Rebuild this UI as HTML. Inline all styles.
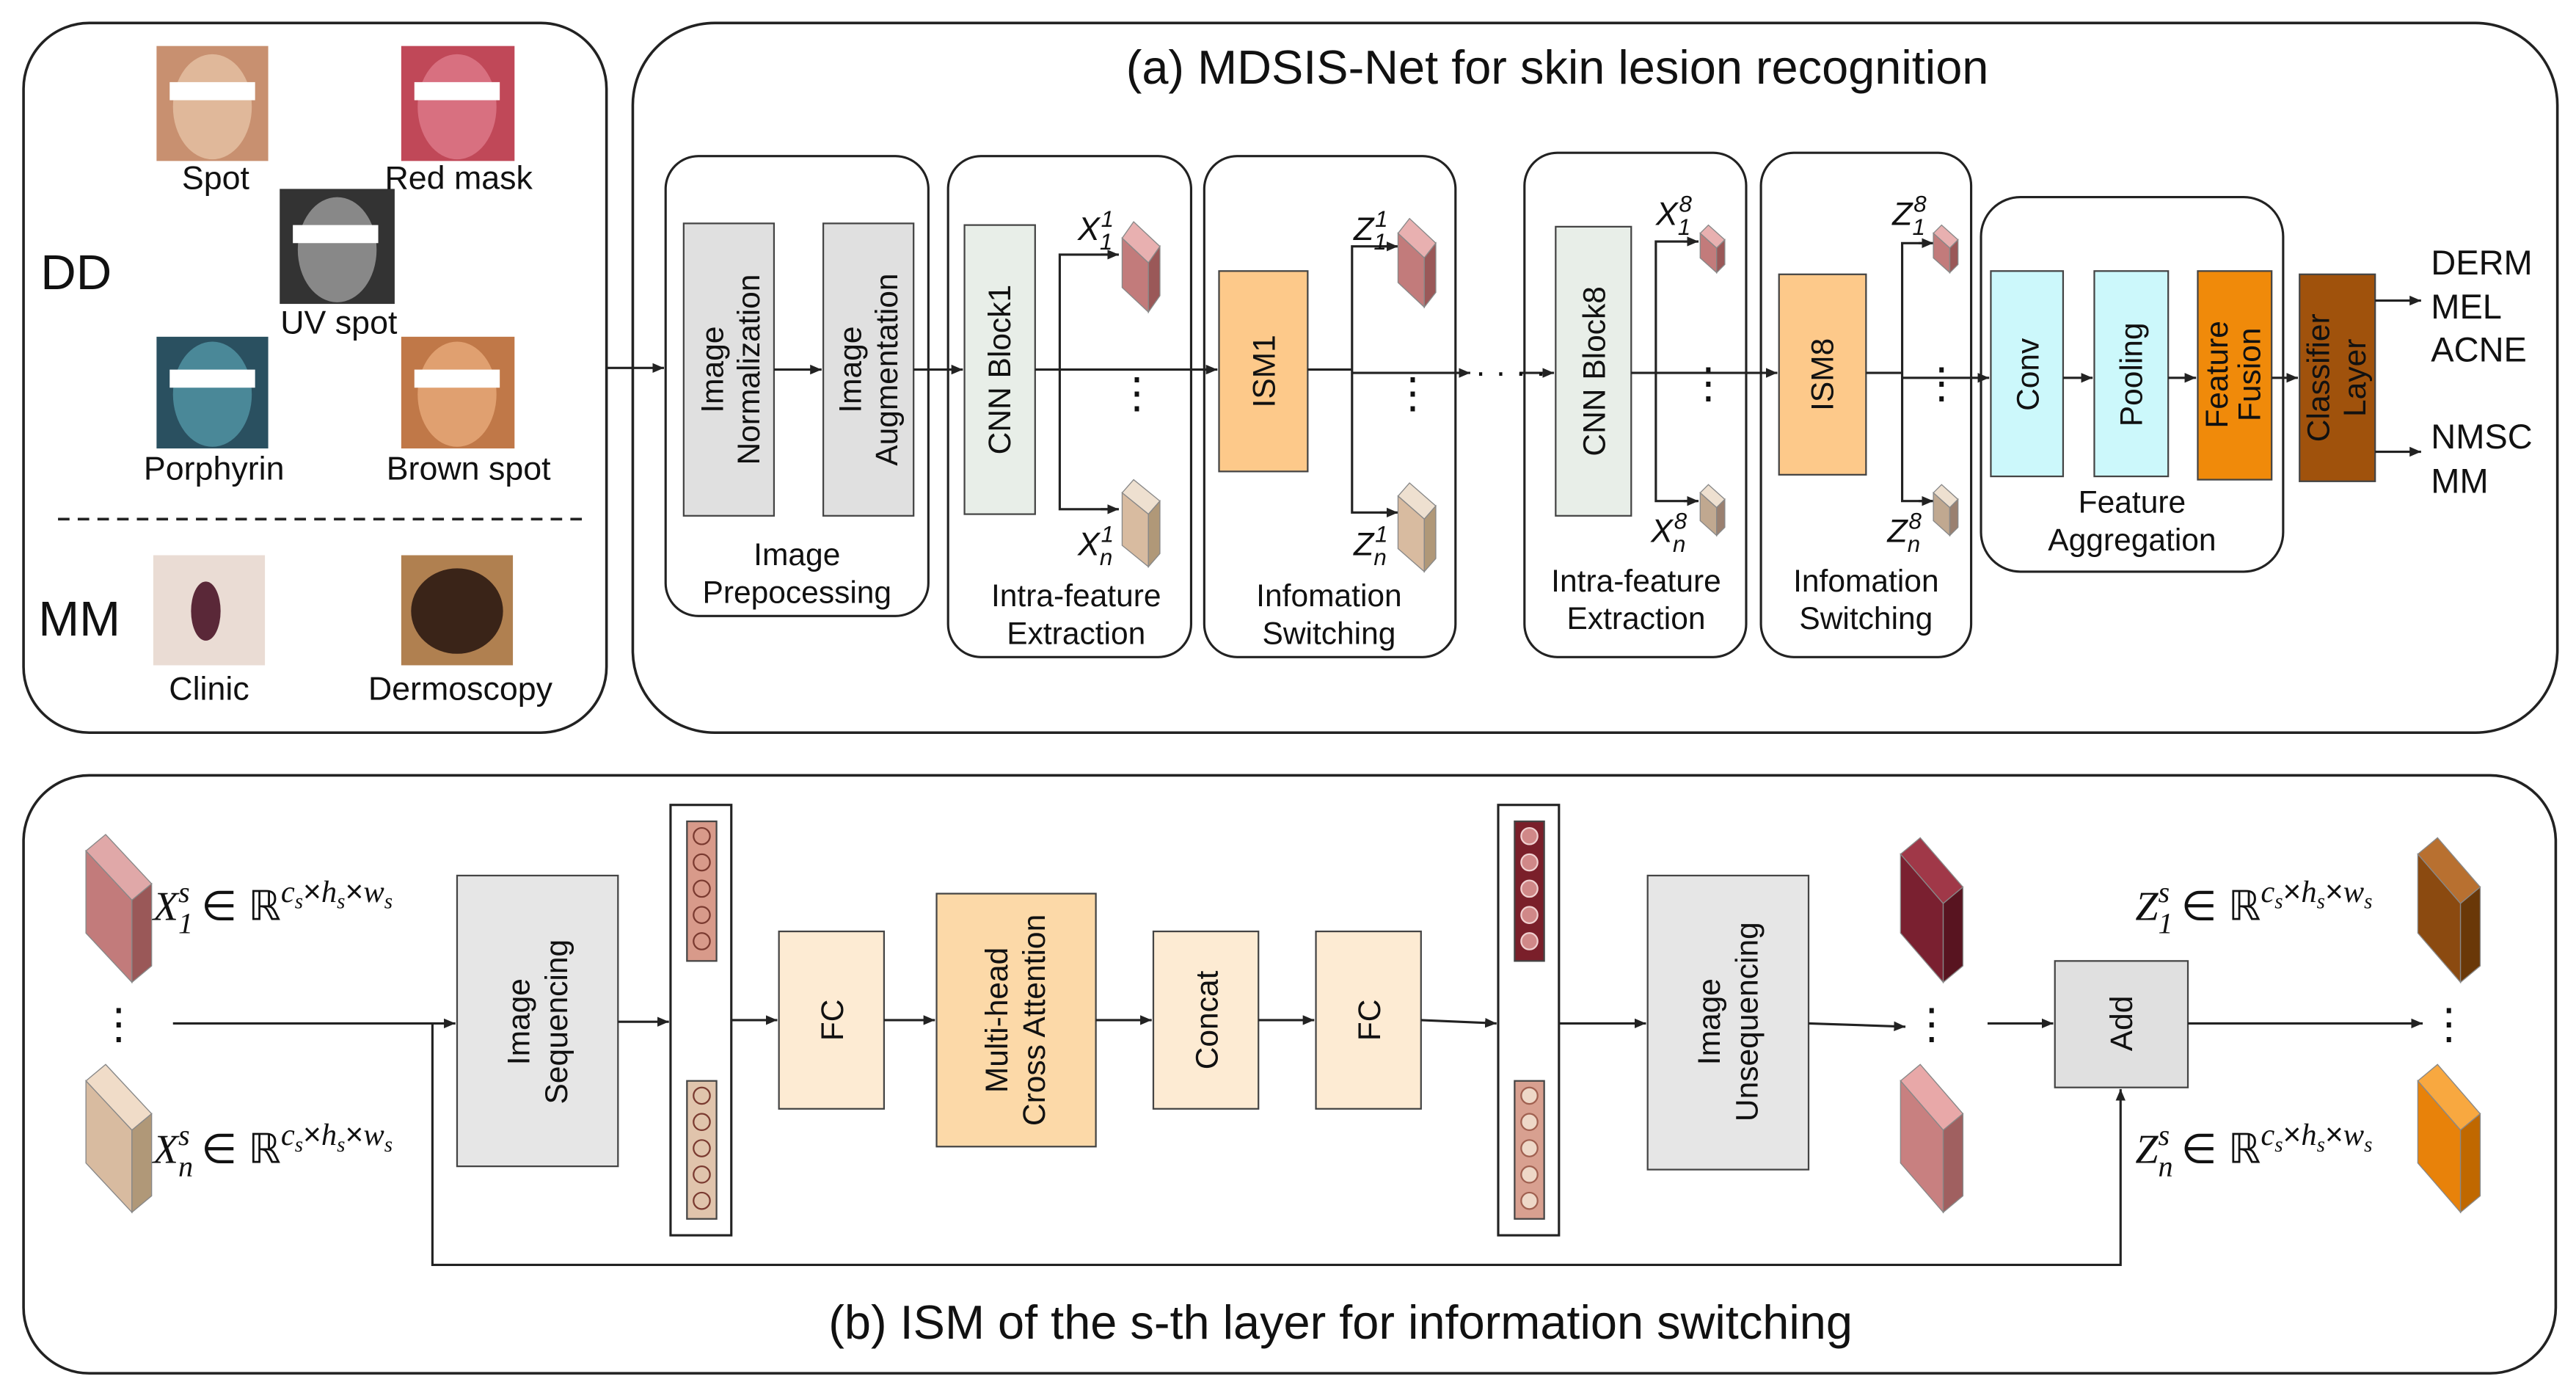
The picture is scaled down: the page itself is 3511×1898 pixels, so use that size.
<!DOCTYPE html>
<html><head><meta charset="utf-8"><style>
html,body{margin:0;padding:0;background:#fff}
svg{display:block}
text{font-family:"Liberation Sans",sans-serif;fill:#111}
.m{font-family:"Liberation Serif",serif;font-style:italic}
</style></head><body>
<svg width="3511" height="1898" viewBox="0 0 1568 848" xmlns="http://www.w3.org/2000/svg">
<defs>
<marker id="a" markerWidth="8" markerHeight="8" refX="7" refY="4" orient="auto" markerUnits="userSpaceOnUse"><path d="M0,1 L7,4 L0,7 z" fill="#222"/></marker>
</defs>
<g fill="none" stroke="#222" stroke-width="1.6">
<rect x="14" y="14" width="355" height="432" rx="40"/>
<rect x="385" y="14" width="1172" height="432" rx="50"/>
<rect x="14" y="472" width="1542" height="364" rx="40"/>
</g>
<text x="948" y="51" font-size="29" text-anchor="middle">(a) MDSIS-Net for skin lesion recognition</text>
<text x="816" y="815" font-size="29" text-anchor="middle">(b) ISM of the s-th layer for information switching</text>

<g>
<rect x="95" y="28" width="68" height="70" fill="#c89070"/><ellipse cx="129" cy="65" rx="24" ry="32" fill="#e0b89a"/><rect x="103" y="50" width="52" height="11" fill="#fff"/>
<rect x="244" y="28" width="69" height="70" fill="#c04858"/><ellipse cx="278" cy="65" rx="24" ry="32" fill="#d87080"/><rect x="252" y="50" width="52" height="11" fill="#fff"/>
<rect x="170" y="115" width="70" height="70" fill="#333"/><ellipse cx="205" cy="152" rx="24" ry="32" fill="#888"/><rect x="178" y="137" width="52" height="11" fill="#fff"/>
<rect x="95" y="205" width="68" height="68" fill="#2a5060"/><ellipse cx="129" cy="240" rx="24" ry="32" fill="#4a8898"/><rect x="103" y="225" width="52" height="11" fill="#fff"/>
<rect x="244" y="205" width="69" height="68" fill="#c07848"/><ellipse cx="278" cy="240" rx="24" ry="32" fill="#e0a070"/><rect x="252" y="225" width="52" height="11" fill="#fff"/>
<rect x="93" y="338" width="68" height="67" fill="#eadcd4"/><ellipse cx="125" cy="372" rx="9" ry="18" fill="#5a2838"/>
<rect x="244" y="338" width="68" height="67" fill="#b08050"/><ellipse cx="278" cy="372" rx="28" ry="26" fill="#3a2418"/>
</g>
<g font-size="20" text-anchor="middle">
<text x="131" y="115">Spot</text><text x="279" y="115">Red mask</text><text x="206" y="203">UV spot</text>
<text x="130" y="292">Porphyrin</text><text x="285" y="292">Brown spot</text>
<text x="127" y="426">Clinic</text><text x="280" y="426">Dermoscopy</text>
</g>
<text x="46" y="176" font-size="30" text-anchor="middle">DD</text>
<text x="48" y="387" font-size="30" text-anchor="middle">MM</text>
<line x1="35" y1="316" x2="358" y2="316" stroke="#222" stroke-width="1.6" stroke-dasharray="7,5"/>

<g stroke="#222" stroke-width="1.4" fill="none">
<line x1="369" y1="224" x2="404" y2="224" marker-end="url(#a)"/>
<rect x="405" y="95" width="160" height="280" rx="20"/>
<rect x="577" y="95" width="148" height="305" rx="20"/>
<rect x="733" y="95" width="153" height="305" rx="20"/>
<rect x="928" y="93" width="135" height="307" rx="20"/>
<rect x="1072" y="93" width="128" height="307" rx="20"/>
<rect x="1206" y="120" width="184" height="228" rx="24"/>
</g>
<g stroke="#444" stroke-width="1">
<rect x="416" y="136" width="55" height="178" fill="#e0e0e0"/>
<rect x="501" y="136" width="55" height="178" fill="#e0e0e0"/>
<rect x="587" y="137" width="43" height="176" fill="#e8eee8"/>
<rect x="742" y="165" width="54" height="122" fill="#fdc98a"/>
<rect x="947" y="138" width="46" height="176" fill="#e8eee8"/>
<rect x="1083" y="167" width="53" height="122" fill="#fdc98a"/>
<rect x="1212" y="165" width="44" height="125" fill="#ccf8fb"/>
<rect x="1275" y="165" width="45" height="125" fill="#ccf8fb"/>
<rect x="1338" y="165" width="45" height="127" fill="#f08a0a"/>
<rect x="1400" y="167" width="46" height="126" fill="#a0520c"/>
</g>
<g font-size="19" text-anchor="middle">
<text transform="translate(440,225) rotate(-90)">Image</text><text transform="translate(462,225) rotate(-90)">Normalization</text>
<text transform="translate(524,225) rotate(-90)">Image</text><text transform="translate(546,225) rotate(-90)">Augmentation</text>
<text transform="translate(615,225) rotate(-90)">CNN Block1</text>
<text transform="translate(776,226) rotate(-90)">ISM1</text>
<text transform="translate(977,226) rotate(-90)">CNN Block8</text>
<text transform="translate(1116,228) rotate(-90)">ISM8</text>
<text transform="translate(1241,228) rotate(-90)">Conv</text>
<text transform="translate(1304,228) rotate(-90)">Pooling</text>
<text transform="translate(1356,228) rotate(-90)">Feature</text><text transform="translate(1376,228) rotate(-90)">Fusion</text>
<text transform="translate(1418,230) rotate(-90)">Classifier</text><text transform="translate(1440,230) rotate(-90)">Layer</text>
<text x="485" y="344">Image</text><text x="485" y="367">Prepocessing</text>
<text x="655" y="369">Intra-feature</text><text x="655" y="392">Extraction</text>
<text x="809" y="369">Infomation</text><text x="809" y="392">Switching</text>
<text x="996" y="360">Intra-feature</text><text x="996" y="383">Extraction</text>
<text x="1136" y="360">Infomation</text><text x="1136" y="383">Switching</text>
<text x="1298" y="312">Feature</text><text x="1298" y="335">Aggregation</text>
</g>
<g stroke="#222" stroke-width="1.4" fill="none">
<line x1="471" y1="225" x2="500" y2="225" marker-end="url(#a)"/>
<line x1="556" y1="225" x2="586" y2="225" marker-end="url(#a)"/>
<line x1="630" y1="225" x2="645" y2="225"/>
<path d="M680,155 H645 V310 H680" /><line x1="670" y1="155" x2="681" y2="155" marker-end="url(#a)"/><line x1="670" y1="310" x2="681" y2="310" marker-end="url(#a)"/>
<line x1="645" y1="225" x2="741" y2="225" marker-end="url(#a)"/>
<line x1="796" y1="225" x2="823" y2="225"/>
<path d="M850,150 H823 V312 H850"/><line x1="840" y1="150" x2="851" y2="150" marker-end="url(#a)"/><line x1="840" y1="312" x2="851" y2="312" marker-end="url(#a)"/>
<line x1="823" y1="227" x2="895" y2="227" marker-end="url(#a)"/>
<line x1="925" y1="227" x2="946" y2="227" marker-end="url(#a)"/>
<line x1="993" y1="227" x2="1008" y2="227"/>
<path d="M1033,147 H1008 V305 H1033"/><line x1="1025" y1="147" x2="1034" y2="147" marker-end="url(#a)"/><line x1="1025" y1="305" x2="1034" y2="305" marker-end="url(#a)"/>
<line x1="1008" y1="227" x2="1082" y2="227" marker-end="url(#a)"/>
<line x1="1136" y1="227" x2="1158" y2="227"/>
<path d="M1176,148 H1158 V305 H1176"/><line x1="1168" y1="148" x2="1177" y2="148" marker-end="url(#a)"/><line x1="1168" y1="305" x2="1177" y2="305" marker-end="url(#a)"/>
<line x1="1158" y1="230" x2="1211" y2="230" marker-end="url(#a)"/>
<line x1="1256" y1="230" x2="1274" y2="230" marker-end="url(#a)"/>
<line x1="1320" y1="230" x2="1337" y2="230" marker-end="url(#a)"/>
<line x1="1383" y1="230" x2="1399" y2="230" marker-end="url(#a)"/>
<line x1="1446" y1="183" x2="1474" y2="183" marker-end="url(#a)"/>
<line x1="1446" y1="275" x2="1474" y2="275" marker-end="url(#a)"/>
</g>
<text x="898" y="233" font-size="20">· · · ·</text>
<g font-size="26" text-anchor="middle"><text x="692" y="248">⋮</text><text x="860" y="248">⋮</text><text x="1040" y="242">⋮</text><text x="1182" y="242">⋮</text></g>
<g stroke="#888" stroke-width="0.6">
<polygon points="683,145 690,135 706,150 699,160" fill="#e8b0b0"/><polygon points="683,145 699,160 699,190 683,175" fill="#c27b7b"/><polygon points="699,160 706,150 706,180 699,190" fill="#9a5858"/>
<polygon points="683,300 690,292 706,305 699,313" fill="#eee0d0"/><polygon points="683,300 699,313 699,345 683,332" fill="#d8bba0"/><polygon points="699,313 706,305 706,337 699,345" fill="#b09878"/>
<polygon points="851,142 858,133 874,148 867,157" fill="#e8b0b0"/><polygon points="851,142 867,157 867,187 851,172" fill="#c27b7b"/><polygon points="867,157 874,148 874,178 867,187" fill="#9a5858"/>
<polygon points="851,302 858,294 874,308 867,316" fill="#eee0d0"/><polygon points="851,302 867,316 867,348 851,334" fill="#d8bba0"/><polygon points="867,316 874,308 874,340 867,348" fill="#b09878"/>
<polygon points="1035,142 1040,137 1050,146 1045,151" fill="#e8b0b0"/><polygon points="1035,142 1045,151 1045,166 1035,157" fill="#c27b7b"/><polygon points="1045,151 1050,146 1050,161 1045,166" fill="#9a5858"/>
<polygon points="1035,300 1040,295 1050,304 1045,309" fill="#eee0d0"/><polygon points="1035,300 1045,309 1045,326 1035,317" fill="#c0a890"/><polygon points="1045,309 1050,304 1050,321 1045,326" fill="#9a8070"/>
<polygon points="1177,142 1182,137 1192,146 1187,151" fill="#e8b0b0"/><polygon points="1177,142 1187,151 1187,166 1177,157" fill="#c27b7b"/><polygon points="1187,151 1192,146 1192,161 1187,166" fill="#9a5858"/>
<polygon points="1177,300 1182,295 1192,304 1187,309" fill="#eee0d0"/><polygon points="1177,300 1187,309 1187,326 1177,317" fill="#c0a890"/><polygon points="1187,309 1192,304 1192,321 1187,326" fill="#9a8070"/>
</g>
<g font-size="20" class="m">
<text x="656" y="146">X<tspan font-size="14" dy="6">1</tspan><tspan font-size="14" dy="-14" dx="-7">1</tspan></text>
<text x="656" y="338">X<tspan font-size="14" dy="6">n</tspan><tspan font-size="14" dy="-14" dx="-7">1</tspan></text>
<text x="824" y="146">Z<tspan font-size="14" dy="6">1</tspan><tspan font-size="14" dy="-14" dx="-7">1</tspan></text>
<text x="824" y="338">Z<tspan font-size="14" dy="6">n</tspan><tspan font-size="14" dy="-14" dx="-7">1</tspan></text>
<text x="1008" y="137">X<tspan font-size="14" dy="6">1</tspan><tspan font-size="14" dy="-14" dx="-7">8</tspan></text>
<text x="1005" y="330">X<tspan font-size="14" dy="6">n</tspan><tspan font-size="14" dy="-14" dx="-7">8</tspan></text>
<text x="1152" y="137">Z<tspan font-size="14" dy="6">1</tspan><tspan font-size="14" dy="-14" dx="-7">8</tspan></text>
<text x="1149" y="330">Z<tspan font-size="14" dy="6">n</tspan><tspan font-size="14" dy="-14" dx="-7">8</tspan></text>
</g>
<g font-size="21"><text x="1480" y="167">DERM</text><text x="1480" y="194">MEL</text><text x="1480" y="220">ACNE</text><text x="1480" y="273">NMSC</text><text x="1480" y="300">MM</text></g>

<g stroke="#888" stroke-width="0.6">
<polygon points="52,518 64,508 92,538 80,548" fill="#e0a8a8"/><polygon points="52,518 80,548 80,598 52,568" fill="#c27b7b"/><polygon points="80,548 92,538 92,588 80,598" fill="#9a5858"/>
<polygon points="52,658 64,648 92,678 80,688" fill="#f0dcc8"/><polygon points="52,658 80,688 80,738 52,708" fill="#d8bba0"/><polygon points="80,688 92,678 92,728 80,738" fill="#b09878"/>
<polygon points="1157,520 1169,510 1195,540 1183,550" fill="#a03848"/><polygon points="1157,520 1183,550 1183,598 1157,568" fill="#7a2030"/><polygon points="1183,550 1195,540 1195,588 1183,598" fill="#581420"/>
<polygon points="1157,658 1169,648 1195,678 1183,688" fill="#e8a8a8"/><polygon points="1157,658 1183,688 1183,738 1157,708" fill="#c88080"/><polygon points="1183,688 1195,678 1195,728 1183,738" fill="#a06060"/>
<polygon points="1472,520 1484,510 1510,540 1498,550" fill="#b87030"/><polygon points="1472,520 1498,550 1498,598 1472,568" fill="#8b4a10"/><polygon points="1498,550 1510,540 1510,588 1498,598" fill="#6a3808"/>
<polygon points="1472,658 1484,648 1510,678 1498,688" fill="#f8a840"/><polygon points="1472,658 1498,688 1498,738 1472,708" fill="#e8820a"/><polygon points="1498,688 1510,678 1510,728 1498,738" fill="#c06800"/>
</g>
<g font-size="26" text-anchor="middle"><text x="72" y="632">⋮</text><text x="1176" y="632">⋮</text><text x="1491" y="632">⋮</text></g>
<g font-size="25">
<text x="93" y="560"><tspan class="m">X</tspan><tspan class="m" font-size="18" dy="8">1</tspan><tspan class="m" font-size="18" dy="-19" dx="-9">s</tspan><tspan dy="11"> ∈ ℝ</tspan><tspan class="m" font-size="19" dy="-11">c</tspan><tspan class="m" font-size="13" dy="4">s</tspan><tspan font-size="19" dy="-4">×</tspan><tspan class="m" font-size="19">h</tspan><tspan class="m" font-size="13" dy="4">s</tspan><tspan font-size="19" dy="-4">×</tspan><tspan class="m" font-size="19">w</tspan><tspan class="m" font-size="13" dy="4">s</tspan></text>
<text x="93" y="708"><tspan class="m">X</tspan><tspan class="m" font-size="18" dy="8">n</tspan><tspan class="m" font-size="18" dy="-19" dx="-9">s</tspan><tspan dy="11"> ∈ ℝ</tspan><tspan class="m" font-size="19" dy="-11">c</tspan><tspan class="m" font-size="13" dy="4">s</tspan><tspan font-size="19" dy="-4">×</tspan><tspan class="m" font-size="19">h</tspan><tspan class="m" font-size="13" dy="4">s</tspan><tspan font-size="19" dy="-4">×</tspan><tspan class="m" font-size="19">w</tspan><tspan class="m" font-size="13" dy="4">s</tspan></text>
<text x="1300" y="560"><tspan class="m">Z</tspan><tspan class="m" font-size="18" dy="8">1</tspan><tspan class="m" font-size="18" dy="-19" dx="-9">s</tspan><tspan dy="11"> ∈ ℝ</tspan><tspan class="m" font-size="19" dy="-11">c</tspan><tspan class="m" font-size="13" dy="4">s</tspan><tspan font-size="19" dy="-4">×</tspan><tspan class="m" font-size="19">h</tspan><tspan class="m" font-size="13" dy="4">s</tspan><tspan font-size="19" dy="-4">×</tspan><tspan class="m" font-size="19">w</tspan><tspan class="m" font-size="13" dy="4">s</tspan></text>
<text x="1300" y="708"><tspan class="m">Z</tspan><tspan class="m" font-size="18" dy="8">n</tspan><tspan class="m" font-size="18" dy="-19" dx="-9">s</tspan><tspan dy="11"> ∈ ℝ</tspan><tspan class="m" font-size="19" dy="-11">c</tspan><tspan class="m" font-size="13" dy="4">s</tspan><tspan font-size="19" dy="-4">×</tspan><tspan class="m" font-size="19">h</tspan><tspan class="m" font-size="13" dy="4">s</tspan><tspan font-size="19" dy="-4">×</tspan><tspan class="m" font-size="19">w</tspan><tspan class="m" font-size="13" dy="4">s</tspan></text>
</g>
<g stroke="#444" stroke-width="1">
<rect x="278" y="533" width="98" height="177" fill="#e6e6e6"/>
<rect x="408" y="490" width="37" height="262" fill="#fff" stroke="#222" stroke-width="1.4"/>
<rect x="418" y="500" width="18" height="85" fill="#d89a8a"/>
<rect x="418" y="658" width="18" height="84" fill="#e0c4ac"/>
<rect x="474" y="567" width="64" height="108" fill="#fdebd3"/>
<rect x="570" y="544" width="97" height="154" fill="#fcd9a8"/>
<rect x="702" y="567" width="64" height="108" fill="#fdebd3"/>
<rect x="801" y="567" width="64" height="108" fill="#fdebd3"/>
<rect x="912" y="490" width="37" height="262" fill="#fff" stroke="#222" stroke-width="1.4"/>
<rect x="922" y="500" width="18" height="85" fill="#7a1f2a"/>
<rect x="922" y="658" width="18" height="84" fill="#d8a090"/>
<rect x="1003" y="533" width="98" height="179" fill="#e6e6e6"/>
<rect x="1251" y="585" width="81" height="77" fill="#e0e0e0"/>
</g>
<g fill="none" stroke="#7a3a30" stroke-width="1">
<circle cx="427" cy="509" r="5"/><circle cx="427" cy="525" r="5"/><circle cx="427" cy="541" r="5"/><circle cx="427" cy="557" r="5"/><circle cx="427" cy="573" r="5"/>
<circle cx="427" cy="667" r="5"/><circle cx="427" cy="683" r="5"/><circle cx="427" cy="699" r="5"/><circle cx="427" cy="715" r="5"/><circle cx="427" cy="731" r="5"/>
</g>
<g fill="#d08888" stroke="#f0d0d0" stroke-width="1">
<circle cx="931" cy="509" r="5"/><circle cx="931" cy="525" r="5"/><circle cx="931" cy="541" r="5"/><circle cx="931" cy="557" r="5"/><circle cx="931" cy="573" r="5"/>
</g>
<g fill="#eed8c8" stroke="#a06050" stroke-width="1">
<circle cx="931" cy="667" r="5"/><circle cx="931" cy="683" r="5"/><circle cx="931" cy="699" r="5"/><circle cx="931" cy="715" r="5"/><circle cx="931" cy="731" r="5"/>
</g>
<g font-size="19" text-anchor="middle">
<text transform="translate(322,622) rotate(-90)">Image</text><text transform="translate(345,622) rotate(-90)">Sequencing</text>
<text transform="translate(513,621) rotate(-90)">FC</text>
<text transform="translate(613,621) rotate(-90)">Multi-head</text><text transform="translate(636,621) rotate(-90)">Cross Attention</text>
<text transform="translate(741,621) rotate(-90)">Concat</text>
<text transform="translate(840,621) rotate(-90)">FC</text>
<text transform="translate(1047,622) rotate(-90)">Image</text><text transform="translate(1070,622) rotate(-90)">Unsequencing</text>
<text transform="translate(1298,623) rotate(-90)">Add</text>
</g>
<g stroke="#222" stroke-width="1.4" fill="none">
<line x1="105" y1="623" x2="277" y2="623" marker-end="url(#a)"/>
<path d="M263,623 V770 H1291 V663" marker-end="url(#a)"/>
<line x1="376" y1="622" x2="407" y2="622" marker-end="url(#a)"/>
<line x1="445" y1="621" x2="473" y2="621" marker-end="url(#a)"/>
<line x1="538" y1="621" x2="569" y2="621" marker-end="url(#a)"/>
<line x1="667" y1="621" x2="701" y2="621" marker-end="url(#a)"/>
<line x1="766" y1="621" x2="800" y2="621" marker-end="url(#a)"/>
<line x1="865" y1="621" x2="911" y2="623" marker-end="url(#a)"/>
<line x1="949" y1="623" x2="1002" y2="623" marker-end="url(#a)"/>
<line x1="1101" y1="623" x2="1160" y2="625" marker-end="url(#a)"/>
<line x1="1210" y1="623" x2="1250" y2="623" marker-end="url(#a)"/>
<line x1="1332" y1="623" x2="1475" y2="623" marker-end="url(#a)"/>
</g>
</svg>
</body></html>
